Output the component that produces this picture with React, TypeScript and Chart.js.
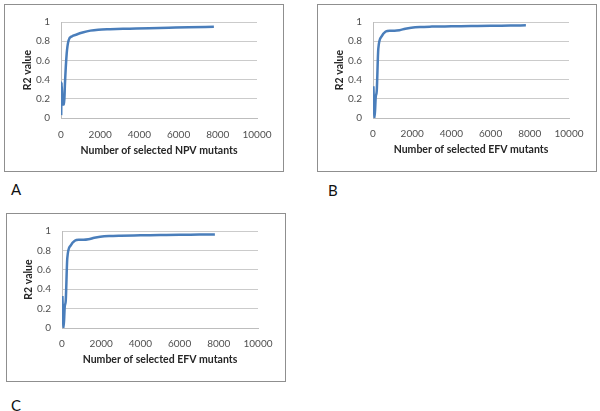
import React, { useEffect, useRef } from "react";
import { Chart, registerables } from "chart.js";

Chart.register(...registerables);

// ---- Data ----
const npvX = [10, 30, 80, 120, 160, 200, 290, 390, 550, 800, 1100, 1500, 1900, 2500, 3500, 4500, 5500, 6500, 7800];
const npvY = [0.03, 0.37, 0.14, 0.15, 0.14, 0.35, 0.67, 0.81, 0.85, 0.87, 0.89, 0.91, 0.92, 0.925, 0.93, 0.935, 0.94, 0.945, 0.95];

const efvX = [20, 80, 140, 190, 270, 440, 650, 850, 1100, 1350, 1650, 1950, 2400, 3000, 4000, 5000, 6000, 7000, 7800];
const efvY = [0.33, 0.0, 0.22, 0.28, 0.72, 0.85, 0.9, 0.91, 0.91, 0.915, 0.93, 0.94, 0.948, 0.952, 0.955, 0.958, 0.961, 0.963, 0.965];

const xTicks = [0, 2000, 4000, 6000, 8000, 10000];
const yTicks = [0, 0.2, 0.4, 0.6, 0.8, 1];

const panelLabels = ["A", "B", "C"];
const xTitles = [
  "Number of selected NPV mutants",
  "Number of selected EFV mutants",
  "Number of selected EFV mutants",
];
const yTitle = "R2 value";

type Layout = {
  left: number;
  top: number;
  width: number;
  height: number;
  plotLeft: number;
  plotTop: number;
  plotRight: number;
  plotBottom: number;
  xTickPad: number;
  xTitlePad: number;
  yTitlePad: number;
};

const layouts: Layout[] = [
  { left: 4, top: 4, width: 280, height: 168, plotLeft: 56, plotTop: 11, plotRight: 252, plotBottom: 113, xTickPad: 11, xTitlePad: 14, yTitlePad: 16 },
  { left: 317, top: 4, width: 280, height: 168, plotLeft: 55, plotTop: 12, plotRight: 251, plotBottom: 113, xTickPad: 10, xTitlePad: 15, yTitlePad: 15 },
  { left: 6, top: 213, width: 280, height: 169, plotLeft: 55, plotTop: 12, plotRight: 251, plotBottom: 114, xTickPad: 10, xTitlePad: 15, yTitlePad: 15 },
];

const labelPos = [
  { left: 11, top: 180 },
  { left: 328, top: 181 },
  { left: 11, top: 396 },
];

const tickFont = { family: "Lato, 'Open Sans', sans-serif", size: 10 };
const titleFont = { family: "Lato, 'Open Sans', sans-serif", size: 10.5, weight: "bold" as const };

function Panel({ xs, ys, xTitle, layout }: { xs: number[]; ys: number[]; xTitle: string; layout: Layout }) {
  const ref = useRef<HTMLCanvasElement>(null);
  const cw = layout.width - 2;
  const ch = layout.height - 2;

  useEffect(() => {
    const chart = new Chart(ref.current!, {
      type: "line",
      data: {
        datasets: [
          {
            data: xs.map((x, i) => ({ x, y: ys[i] })),
            borderColor: "#4a7ebb",
            borderWidth: 2.5,
            pointRadius: 0,
            cubicInterpolationMode: "monotone",
            fill: false,
          },
        ],
      },
      options: {
        animation: false,
        responsive: false,
        maintainAspectRatio: false,
        devicePixelRatio: 1,
        layout: { padding: { left: 0, top: layout.plotTop, right: cw - layout.plotRight, bottom: 0 } },
        plugins: { legend: { display: false }, tooltip: { enabled: false } },
        scales: {
          x: {
            type: "linear",
            min: 0,
            max: 10000,
            afterBuildTicks: (s: any) => {
              s.ticks = xTicks.map((v) => ({ value: v }));
            },
            afterFit: (s: any) => {
              s.height = ch - layout.plotBottom;
            },
            ticks: {
              color: "#505050",
              font: tickFont,
              padding: layout.xTickPad,
              maxRotation: 0,
              autoSkip: false,
              callback: (v: any) => String(v),
            },
            grid: { display: false, drawTicks: false },
            border: { display: true, color: "#bdbdbd", width: 1 },
            title: {
              display: true,
              text: xTitle,
              color: "#262626",
              font: titleFont,
              padding: { top: 0, bottom: layout.xTitlePad },
            },
          },
          y: {
            type: "linear",
            min: 0,
            max: 1,
            afterBuildTicks: (s: any) => {
              s.ticks = yTicks.map((v) => ({ value: v }));
            },
            afterFit: (s: any) => {
              s.width = layout.plotLeft;
            },
            ticks: {
              color: "#505050",
              font: tickFont,
              padding: 11,
              autoSkip: false,
              callback: (v: any) => Number(v).toFixed(1).replace(/\.0$/, ""),
            },
            grid: { display: true, drawTicks: false, color: "#cbcbcb", lineWidth: 1 },
            border: { display: true, color: "#bdbdbd", width: 1 },
            title: {
              display: true,
              text: yTitle,
              color: "#262626",
              font: titleFont,
              padding: { top: layout.yTitlePad, bottom: 0 },
            },
          },
        },
      },
    } as any);
    return () => chart.destroy();
  }, []);

  return (
    <div
      style={{
        position: "absolute",
        left: layout.left,
        top: layout.top,
        width: layout.width,
        height: layout.height,
        border: "1px solid #8f8f8f",
        boxSizing: "border-box",
        background: "#ffffff",
      }}
    >
      <canvas ref={ref} width={cw} height={ch} style={{ display: "block", width: cw, height: ch }} />
    </div>
  );
}

export default function App() {
  const series = [
    { xs: npvX, ys: npvY },
    { xs: efvX, ys: efvY },
    { xs: efvX, ys: efvY },
  ];
  return (
    <div style={{ position: "absolute", left: 0, top: 0, width: 600, height: 411, background: "#ffffff", overflow: "hidden" }}>
      {series.map((s, i) => (
        <Panel key={i} xs={s.xs} ys={s.ys} xTitle={xTitles[i]} layout={layouts[i]} />
      ))}
      {panelLabels.map((t, i) => (
        <div
          key={t}
          style={{
            position: "absolute",
            left: labelPos[i].left,
            top: labelPos[i].top,
            fontFamily: "Lato, 'Open Sans', sans-serif",
            fontSize: 15,
            lineHeight: "18px",
            color: "#111111",
          }}
        >
          {t}
        </div>
      ))}
    </div>
  );
}
